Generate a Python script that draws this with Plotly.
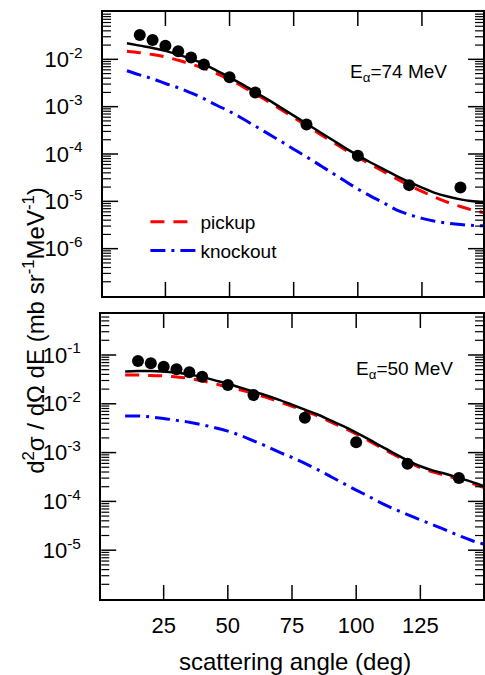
import plotly.graph_objects as go

# Scattering angles (deg)
angle_curve = [10, 15, 20, 25, 30, 35, 40, 45, 50, 55, 60, 65, 70, 75, 80,
               85, 90, 95, 100, 105, 110, 115, 120, 125, 130, 135, 140, 145, 150]
angle_data = [15, 20, 25, 30, 35, 40, 50, 60, 80, 100, 120, 140]

# E_alpha = 74 MeV  (mb sr^-1 MeV^-1)
data_74 = [3.27e-2, 2.56e-2, 1.94e-2, 1.48e-2, 1.09e-2, 7.8e-3,
           4.2e-3, 2.0e-3, 4.2e-4, 9.2e-5, 2.2e-5, 1.95e-5]
total_74 = [2.19e-2, 1.95e-2, 1.74e-2, 1.51e-2, 1.26e-2, 1.02e-2, 7.94e-3, 5.75e-3,
            4.17e-3, 2.95e-3, 2.04e-3, 1.41e-3, 9.55e-4, 6.46e-4, 4.37e-4, 2.95e-4,
            2.00e-4, 1.35e-4, 9.33e-5, 6.61e-5, 4.79e-5, 3.47e-5, 2.57e-5, 1.95e-5,
            1.51e-5, 1.26e-5, 1.10e-5, 1.00e-5, 9.33e-6]
pickup_74 = [1.48e-2, 1.38e-2, 1.26e-2, 1.12e-2, 9.55e-3, 7.94e-3, 6.46e-3, 5.01e-3,
             3.72e-3, 2.69e-3, 1.86e-3, 1.29e-3, 8.71e-4, 5.89e-4, 3.98e-4, 2.69e-4,
             1.82e-4, 1.23e-4, 8.51e-5, 6.03e-5, 4.27e-5, 3.02e-5, 2.19e-5, 1.62e-5,
             1.23e-5, 9.55e-6, 7.76e-6, 6.46e-6, 5.62e-6]
knockout_74 = [5.75e-3, 4.68e-3, 3.89e-3, 3.09e-3, 2.51e-3, 1.95e-3, 1.48e-3, 1.07e-3,
               7.94e-4, 5.62e-4, 3.89e-4, 2.69e-4, 1.86e-4, 1.26e-4, 8.71e-5, 5.89e-5,
               3.98e-5, 2.69e-5, 1.82e-5, 1.29e-5, 9.33e-6, 6.61e-6, 5.25e-6, 4.37e-6,
               3.80e-6, 3.47e-6, 3.24e-6, 3.09e-6, 3.02e-6]

# E_alpha = 50 MeV
data_50 = [7.55e-2, 6.75e-2, 5.77e-2, 5.1e-2, 4.43e-2, 3.6e-2,
           2.43e-2, 1.52e-2, 5.2e-3, 1.63e-3, 5.9e-4, 3.0e-4]
total_50 = [4.6e-2, 4.7e-2, 4.7e-2, 4.57e-2, 4.37e-2, 3.98e-2, 3.55e-2, 3.02e-2,
            2.57e-2, 2.14e-2, 1.78e-2, 1.48e-2, 1.20e-2, 9.55e-3, 7.59e-3, 6.03e-3,
            4.57e-3, 3.47e-3, 2.57e-3, 1.86e-3, 1.32e-3, 9.55e-4, 6.92e-4, 5.25e-4,
            4.27e-4, 3.63e-4, 3.02e-4, 2.51e-4, 2.04e-4]
pickup_50 = [3.89e-2, 3.89e-2, 3.80e-2, 3.72e-2, 3.55e-2, 3.31e-2, 2.95e-2, 2.57e-2,
             2.19e-2, 1.91e-2, 1.62e-2, 1.35e-2, 1.10e-2, 8.91e-3, 7.08e-3, 5.62e-3,
             4.27e-3, 3.24e-3, 2.40e-3, 1.74e-3, 1.23e-3, 8.91e-4, 6.61e-4, 4.90e-4,
             3.98e-4, 3.39e-4, 2.82e-4, 2.34e-4, 1.91e-4]
knockout_50 = [5.62e-3, 5.62e-3, 5.37e-3, 5.01e-3, 4.57e-3, 4.17e-3, 3.72e-3, 3.24e-3,
               2.75e-3, 2.24e-3, 1.74e-3, 1.35e-3, 1.02e-3, 7.94e-4, 6.03e-4, 4.47e-4,
               3.24e-4, 2.34e-4, 1.70e-4, 1.26e-4, 9.12e-5, 6.92e-5, 5.37e-5, 4.17e-5,
               3.31e-5, 2.57e-5, 2.00e-5, 1.58e-5, 1.32e-5]

x_ticks = [25, 50, 75, 100, 125]
y_ticks_top = [1e-2, 1e-3, 1e-4, 1e-5, 1e-6]
y_labels_top = ["10<sup>-2</sup>", "10<sup>-3</sup>", "10<sup>-4</sup>",
                "10<sup>-5</sup>", "10<sup>-6</sup>"]
y_ticks_bot = [1e-1, 1e-2, 1e-3, 1e-4, 1e-5]
y_labels_bot = ["10<sup>-1</sup>", "10<sup>-2</sup>", "10<sup>-3</sup>",
                "10<sup>-4</sup>", "10<sup>-5</sup>"]

FONT = "Liberation Sans, Arial, sans-serif"
W, H = 485, 675
TOP_X, BOT_X = [103.5 / W, 1], [101.7 / W, 1]
TOP_DOM = [1 - 296 / H, 1 - 12 / H]
BOT_DOM = [1 - 599 / H, 1 - 314 / H]
TOP_RANGE = [-7, -1]
BOT_RANGE = [-6, -0.16]

fig = go.Figure()


def add_panel(xa, ya, total, pickup, knockout, data, legend):
    fig.add_trace(go.Scatter(x=angle_curve, y=pickup, mode="lines", name="pickup",
                             line=dict(color="#ff0000", width=3, dash="14px,9px", shape="spline"),
                             xaxis=xa, yaxis=ya, showlegend=legend, legendgroup="a"))
    fig.add_trace(go.Scatter(x=angle_curve, y=knockout, mode="lines", name="knockout",
                             line=dict(color="#0000ff", width=3, dash="15px,6px,3px,6px",
                                       shape="spline"),
                             xaxis=xa, yaxis=ya, showlegend=legend, legendgroup="b"))
    fig.add_trace(go.Scatter(x=angle_curve, y=total, mode="lines",
                             line=dict(color="black", width=2.5, shape="spline"),
                             xaxis=xa, yaxis=ya, showlegend=False))
    fig.add_trace(go.Scatter(x=angle_data, y=data, mode="markers",
                             marker=dict(color="black", size=12),
                             xaxis=xa, yaxis=ya, showlegend=False))


add_panel("x", "y", total_74, pickup_74, knockout_74, data_74, True)
add_panel("x2", "y2", total_50, pickup_50, knockout_50, data_50, False)


def tick_marks(xa, ya, xdom, ydom, yrange):
    """Inward tick marks on all four sides of a panel (major + log minor)."""
    wpx = (xdom[1] - xdom[0]) * W
    hpx = (ydom[1] - ydom[0]) * H
    marks = []
    xlen = 14 / hpx
    for v in x_ticks:
        for y0, y1 in ((0, xlen), (1, 1 - xlen)):
            marks.append(dict(type="line", xref=xa, yref=ya + " domain", x0=v, x1=v,
                              y0=y0, y1=y1, line=dict(color="black", width=1.5)))
    lo, hi = yrange
    for e in range(int(lo) - 1, int(hi) + 1):
        for m in range(1, 10):
            val = m * 10.0 ** e
            lg = e + (0 if m == 1 else __import__("math").log10(m))
            if lg <= lo + 1e-6 or lg >= hi - 1e-6:
                continue
            ln = (15 if m == 1 else 8) / wpx
            wd = 1.5 if m == 1 else 1.2
            for x0, x1 in ((0, ln), (1, 1 - ln)):
                marks.append(dict(type="line", xref=xa + " domain", yref=ya, x0=x0, x1=x1,
                                  y0=val, y1=val, line=dict(color="black", width=wd)))
    return marks


shapes = tick_marks("x", "y", TOP_X, TOP_DOM, TOP_RANGE) + \
    tick_marks("x2", "y2", BOT_X, BOT_DOM, BOT_RANGE)

xcommon = dict(showline=True, linewidth=2, linecolor="black", mirror=True, ticks="",
               tickmode="array", tickvals=x_ticks, showgrid=False, zeroline=False,
               ticklabelstandoff=6, tickfont=dict(family=FONT, size=22, color="black"))
ycommon = dict(type="log", showline=True, linewidth=2, linecolor="black", mirror=True,
               ticks="", tickmode="array", showgrid=False, zeroline=False,
               ticklabelstandoff=14, tickfont=dict(family=FONT, size=22, color="black"))

fig.update_layout(
    width=W, height=H,
    margin=dict(l=0, r=0, t=0, b=0),
    paper_bgcolor="white", plot_bgcolor="white",
    font=dict(family=FONT, color="black"),
    xaxis=dict(xcommon, domain=TOP_X, range=[0.7, 148.8], anchor="y", showticklabels=False),
    yaxis=dict(ycommon, domain=TOP_DOM, range=TOP_RANGE, anchor="x",
               tickvals=y_ticks_top, ticktext=y_labels_top),
    xaxis2=dict(xcommon, domain=BOT_X, range=[0.7, 149.4], anchor="y2"),
    yaxis2=dict(ycommon, domain=BOT_DOM, range=BOT_RANGE, anchor="x2",
                tickvals=y_ticks_bot, ticktext=y_labels_bot),
    shapes=shapes,
    showlegend=True,
    legend=dict(x=146 / W, y=1 - 203 / H, xanchor="left", yanchor="top",
                bgcolor="rgba(0,0,0,0)", borderwidth=0,
                tracegroupgap=1, itemwidth=45,
                font=dict(family=FONT, size=19, color="black")),
    annotations=[
        dict(text="E<sub>α</sub>=74 MeV", x=400 / W, y=1 - 73 / H, xref="paper", yref="paper",
             xanchor="center", yanchor="middle", showarrow=False,
             font=dict(family=FONT, size=19, color="black")),
        dict(text="E<sub>α</sub>=50 MeV", x=406 / W, y=1 - 370 / H, xref="paper", yref="paper",
             xanchor="center", yanchor="middle", showarrow=False,
             font=dict(family=FONT, size=19, color="black")),
        dict(text="d<sup>2</sup>σ / dΩ dE (mb sr<sup>-1</sup>MeV<sup>-1</sup>)",
             x=34 / W, y=1 - 330 / H, xref="paper", yref="paper", textangle=-90,
             xanchor="center", yanchor="middle", showarrow=False,
             font=dict(family=FONT, size=24, color="black")),
        dict(text="scattering angle (deg)", x=296 / W, y=1 - 661 / H, xref="paper",
             yref="paper", xanchor="center", yanchor="middle", showarrow=False,
             font=dict(family=FONT, size=24, color="black")),
    ],
)

fig.write_html("out.html")
